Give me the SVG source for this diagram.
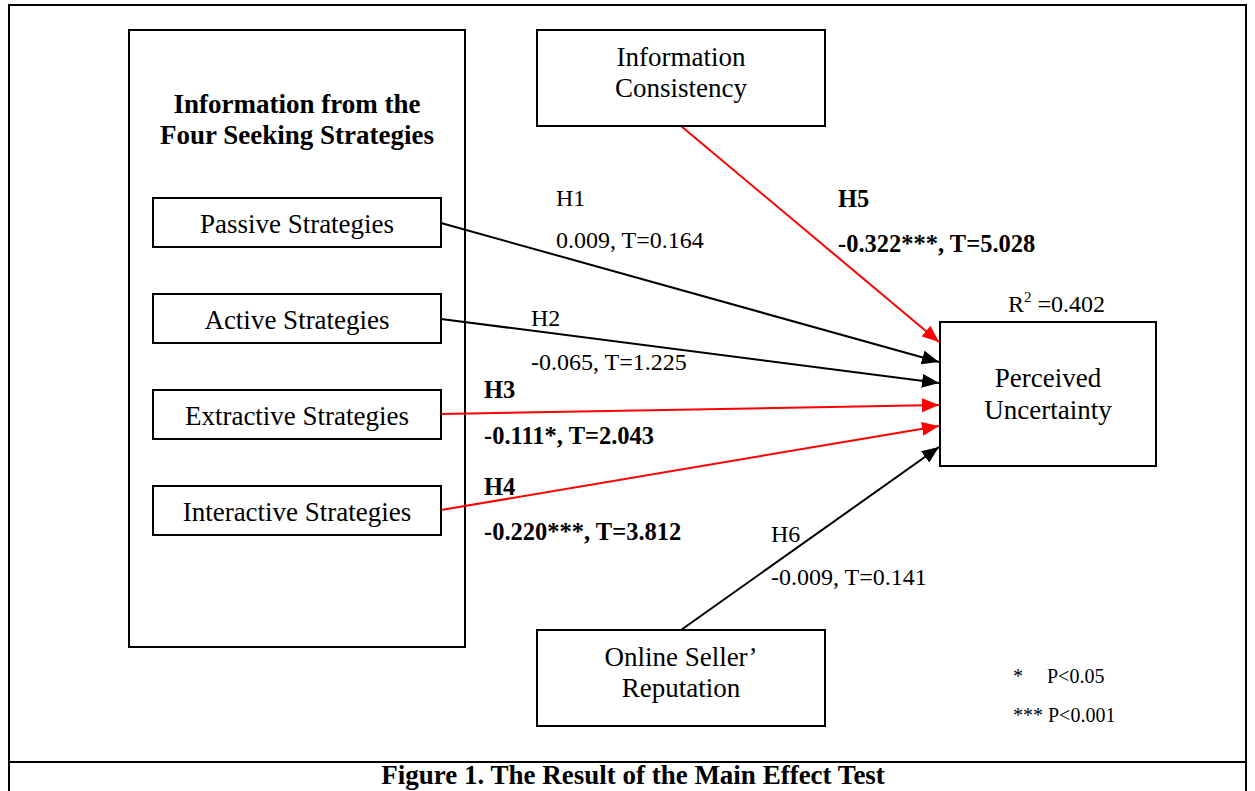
<svg xmlns="http://www.w3.org/2000/svg" width="1255" height="791" viewBox="0 0 1255 791">
<style>
.box{fill:#fff;stroke:#000;stroke-width:2}
.t{font-family:"Liberation Serif","Times New Roman",serif;font-size:27px;fill:#000}
.l{font-size:24px}
.lb{font-size:24.5px;font-weight:bold}
.b{font-weight:bold}
.s{font-size:20px}
.c{stroke-width:2;fill:none}
.k{stroke:#000}
.r{stroke:#f00}
</style>
<defs>
<marker id="ak" viewBox="0 0 17 14" refX="17" refY="7" markerWidth="17" markerHeight="14" markerUnits="userSpaceOnUse" orient="auto">
<path d="M0,0 L17,7 L0,14 z" fill="#000"/>
</marker>
<marker id="ar" viewBox="0 0 17 14" refX="17" refY="7" markerWidth="17" markerHeight="14" markerUnits="userSpaceOnUse" orient="auto">
<path d="M0,0 L17,7 L0,14 z" fill="#f00"/>
</marker>
</defs>
<rect width="1255" height="791" fill="#fff"/>
<g id="frame">
<path d="M9,791 V5 H1246 V791" fill="none" stroke="#000" stroke-width="2"/>
<line x1="9" y1="762" x2="1246" y2="762" stroke="#000" stroke-width="2"/>
<text class="t b" x="633" y="784" text-anchor="middle">Figure 1. The Result of the Main Effect Test</text>
</g>
<g id="group-strategies">
<rect class="box" x="129" y="30" width="336" height="617"/>
<text class="t b" x="297" y="113" text-anchor="middle">Information from the</text>
<text class="t b" x="297" y="144" text-anchor="middle">Four Seeking Strategies</text>
</g>
<g id="connectors">
<line class="c k" x1="441" y1="223" x2="939" y2="362" marker-end="url(#ak)"/>
<line class="c k" x1="441" y1="319" x2="939" y2="383" marker-end="url(#ak)"/>
<line class="c r" x1="441" y1="414" x2="939" y2="405" marker-end="url(#ar)"/>
<line class="c r" x1="441" y1="510" x2="939" y2="426" marker-end="url(#ar)"/>
<line class="c r" x1="681" y1="126" x2="939" y2="342" marker-end="url(#ar)"/>
<line class="c k" x1="681" y1="630" x2="939" y2="447" marker-end="url(#ak)"/>
</g>
<g id="node-passive">
<rect class="box" x="153" y="198" width="288" height="49"/>
<text class="t" x="297" y="233" text-anchor="middle">Passive Strategies</text>
</g>
<g id="node-active">
<rect class="box" x="153" y="294" width="288" height="49"/>
<text class="t" x="297" y="329" text-anchor="middle">Active Strategies</text>
</g>
<g id="node-extractive">
<rect class="box" x="153" y="390" width="288" height="49"/>
<text class="t" x="297" y="425" text-anchor="middle">Extractive Strategies</text>
</g>
<g id="node-interactive">
<rect class="box" x="153" y="486" width="288" height="49"/>
<text class="t" x="297" y="521" text-anchor="middle">Interactive Strategies</text>
</g>
<g id="node-consistency">
<rect class="box" x="537" y="30" width="288" height="96"/>
<text class="t" x="681" y="66" text-anchor="middle">Information</text>
<text class="t" x="681" y="97" text-anchor="middle">Consistency</text>
</g>
<g id="node-reputation">
<rect class="box" x="537" y="630" width="288" height="96"/>
<text class="t" x="681" y="666" text-anchor="middle">Online Seller’</text>
<text class="t" x="681" y="697" text-anchor="middle">Reputation</text>
</g>
<g id="node-uncertainty">
<rect class="box" x="940" y="322" width="216" height="144"/>
<text class="t" x="1048" y="387" text-anchor="middle">Perceived</text>
<text class="t" x="1048" y="419" text-anchor="middle">Uncertainty</text>
<text class="t l" x="1008" y="312">R<tspan dy="-10" font-size="15">2</tspan><tspan dy="10"> =0.402</tspan></text>
</g>
<g id="labels">
<text class="t l" x="556" y="206">H1</text>
<text class="t l" x="556" y="248">0.009, T=0.164</text>
<text class="t l" x="531" y="326">H2</text>
<text class="t l" x="531" y="370">-0.065, T=1.225</text>
<text class="t lb" x="484" y="398">H3</text>
<text class="t lb" x="484" y="444">-0.111*, T=2.043</text>
<text class="t lb" x="484" y="495">H4</text>
<text class="t lb" x="484" y="540">-0.220***, T=3.812</text>
<text class="t lb" x="838" y="207">H5</text>
<text class="t lb" x="838" y="252">-0.322***, T=5.028</text>
<text class="t l" x="771" y="542">H6</text>
<text class="t l" x="771" y="585">-0.009, T=0.141</text>
<text class="t s" x="1013" y="683">*</text>
<text class="t s" x="1047" y="683">P&lt;0.05</text>
<text class="t s" x="1013" y="722">*** P&lt;0.001</text>
</g>
</svg>
